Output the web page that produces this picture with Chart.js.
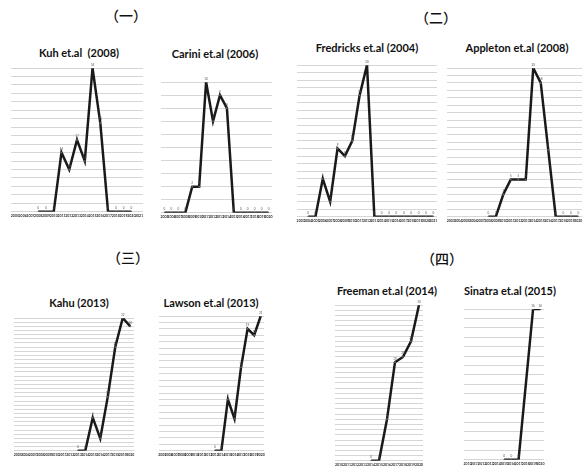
<!DOCTYPE html>
<html>
<head>
<meta charset="utf-8">
<script src="https://cdn.jsdelivr.net/npm/chart.js@4"></script>
<style>
body { margin: 0; background: #fff; width: 587px; height: 469px; position: relative; overflow: hidden; font-family: Lato, "Open Sans", sans-serif; }
.hd { position: absolute; font-family: "Noto Sans CJK SC"; font-size: 14px; font-weight: 500; color: #111; transform: translate(-50%, -50%); white-space: nowrap; }
.tt { position: absolute; font-weight: bold; font-size: 11px; color: #111; transform: translate(-50%, -50%); white-space: pre; }
.box { position: absolute; }
</style>
</head>
<body>
<script>
// citations per year
const kuhYears = ['2005','2006','2007','2008','2009','2010','2011','2012','2013','2014','2015','2016','2017','2018','2019','2020','2021'];
const kuhCites = [null, null, null, 0, 0, 0, 14, 10, 17, 12, 34, 21, 0, 0, 0, 0, null];

const cariniYears = ['2005','2006','2007','2008','2009','2010','2011','2012','2013','2014','2015','2016','2017','2018','2019','2020'];
const cariniCites = [0, 0, 0, 0, 2, 2, 10, 7, 9, 8, 0, 0, 0, 0, 0, 0];

const fredricksYears = ['2003','2004','2005','2006','2007','2008','2009','2010','2011','2012','2013','2014','2015','2016','2017','2018','2019','2020','2021'];
const fredricksCites = [null, 0, 0, 5, 2, 9, 8, 10, 16, 20, 0, 0, 0, 0, 0, 0, 0, 0, 0];

const appletonYears = ['2003','2004','2005','2006','2007','2008','2009','2010','2011','2012','2013','2014','2015','2016','2017','2018','2019','2020'];
const appletonCites = [null, null, null, null, null, 0, 0, 3, 5, 5, 5, 20, 18, 9, 0, 0, 0, 0];

const kahuYears = ['2005','2006','2007','2008','2009','2010','2011','2012','2013','2014','2015','2016','2017','2018','2019','2020'];
const kahuCites = [null, null, null, null, null, null, null, null, 0, 0, 8, 3, 13, 25, 32, 30];

const lawsonYears = ['2005','2006','2007','2008','2009','2010','2011','2012','2013','2014','2015','2016','2017','2018','2019','2020'];
const lawsonCites = [null, null, null, null, null, null, null, null, 0, 0, 8, 5, 13, 19, 18, 21];

const freemanYears = ['2010','2011','2012','2013','2014','2015','2016','2017','2018','2019','2020'];
const freemanCites = [null, null, null, null, 0, 0, 8, 19, 20, 23, 30];

const sinatraYears = ['2010','2011','2012','2013','2014','2015','2016','2017','2018','2019','2020'];
const sinatraCites = [null, null, null, null, null, 0, 0, 0, null, 16, 16];

// group headers
const headers = [
    { text: '（一）', x: 126, y: 15 },
    { text: '（二）', x: 436, y: 17 },
    { text: '（三）', x: 128, y: 257 },
    { text: '（四）', x: 442, y: 258 }
];

// panel layout: plot area edges in page pixels
const panels = [
    { title: 'Kuh et.al  (2008)',      tx: 79,  ty: 52,  labels: kuhYears,       data: kuhCites,       max: 34, step: 2, left: 7,   right: 147, top: 68,  base: 212 },
    { title: 'Carini et.al (2006)',    tx: 215, ty: 53,  labels: cariniYears,    data: cariniCites,    max: 10, step: 1, left: 157, right: 276, top: 82,  base: 213 },
    { title: 'Fredricks et.al (2004)', tx: 367, ty: 47,  labels: fredricksYears, data: fredricksCites, max: 20, step: 1, left: 293, right: 441, top: 65,  base: 217 },
    { title: 'Appleton et.al (2008)',  tx: 517, ty: 47,  labels: appletonYears,  data: appletonCites,  max: 20, step: 1, left: 443, right: 586, top: 68,  base: 217 },
    { title: 'Kahu (2013)',            tx: 79,  ty: 302, labels: kahuYears,      data: kahuCites,      max: 32, step: 1, left: 10,  right: 138, top: 318, base: 451 },
    { title: 'Lawson et.al (2013)',    tx: 211, ty: 302, labels: lawsonYears,    data: lawsonCites,    max: 21, step: 1, left: 155, right: 268, top: 316, base: 451 },
    { title: 'Freeman et.al (2014)',   tx: 387, ty: 290, labels: freemanYears,   data: freemanCites,   max: 30, step: 1, left: 331, right: 427, top: 305, base: 461 },
    { title: 'Sinatra et.al (2015)',   tx: 510, ty: 290, labels: sinatraYears,   data: sinatraCites,   max: 16, step: 1, left: 460, right: 548, top: 309, base: 460 }
];

headers.forEach(h => {
    const d = document.createElement('div');
    d.className = 'hd';
    d.style.left = h.x + 'px';
    d.style.top = h.y + 'px';
    d.textContent = h.text;
    document.body.appendChild(d);
});

// tiny value labels above each point, like the original
const pointLabels = {
    id: 'pointLabels',
    afterDatasetsDraw(chart) {
        const ctx = chart.ctx;
        const meta = chart.getDatasetMeta(0);
        ctx.save();
        ctx.font = '3px Lato';
        ctx.fillStyle = '#555';
        ctx.textAlign = 'center';
        meta.data.forEach((pt, i) => {
            const v = chart.data.datasets[0].data[i];
            if (v === null) return;
            ctx.fillText(String(v), pt.x, pt.y - 2.5);
        });
        ctx.restore();
    }
};

const PAD_TOP = 5;
const AXIS_H = 7;

panels.forEach((p, n) => {
    const t = document.createElement('div');
    t.className = 'tt';
    t.style.left = p.tx + 'px';
    t.style.top = p.ty + 'px';
    t.textContent = p.title;
    document.body.appendChild(t);

    const box = document.createElement('div');
    box.className = 'box';
    box.style.left = p.left + 'px';
    box.style.top = (p.top - PAD_TOP) + 'px';
    box.style.width = (p.right - p.left) + 'px';
    box.style.height = (p.base - p.top + PAD_TOP + AXIS_H) + 'px';
    const cv = document.createElement('canvas');
    cv.id = 'c' + n;
    box.appendChild(cv);
    document.body.appendChild(box);

    new Chart(cv, {
        type: 'line',
        data: {
            labels: p.labels,
            datasets: [{
                data: p.data,
                borderColor: '#1a1a1a',
                borderWidth: 2.5,
                pointRadius: 0.9,
                pointBackgroundColor: '#666',
                pointBorderWidth: 0,
                tension: 0,
                spanGaps: true
            }]
        },
        options: {
            responsive: true,
            maintainAspectRatio: false,
            animation: false,
            layout: { padding: { top: PAD_TOP, left: 0, right: 0, bottom: 0 } },
            plugins: { legend: { display: false }, tooltip: { enabled: false } },
            scales: {
                x: {
                    offset: true,
                    grid: { display: false, drawTicks: false },
                    border: { display: false },
                    ticks: { font: { size: 3.5, family: 'Lato', weight: 'bold' }, color: '#333', autoSkip: false, maxRotation: 0, padding: 1.5 }
                },
                y: {
                    min: 0,
                    max: p.max,
                    grid: { color: '#d6d6d6', lineWidth: 1, drawTicks: false },
                    border: { display: false },
                    ticks: { display: false, stepSize: p.step }
                }
            }
        },
        plugins: [pointLabels]
    });
});
</script>
</body>
</html>
